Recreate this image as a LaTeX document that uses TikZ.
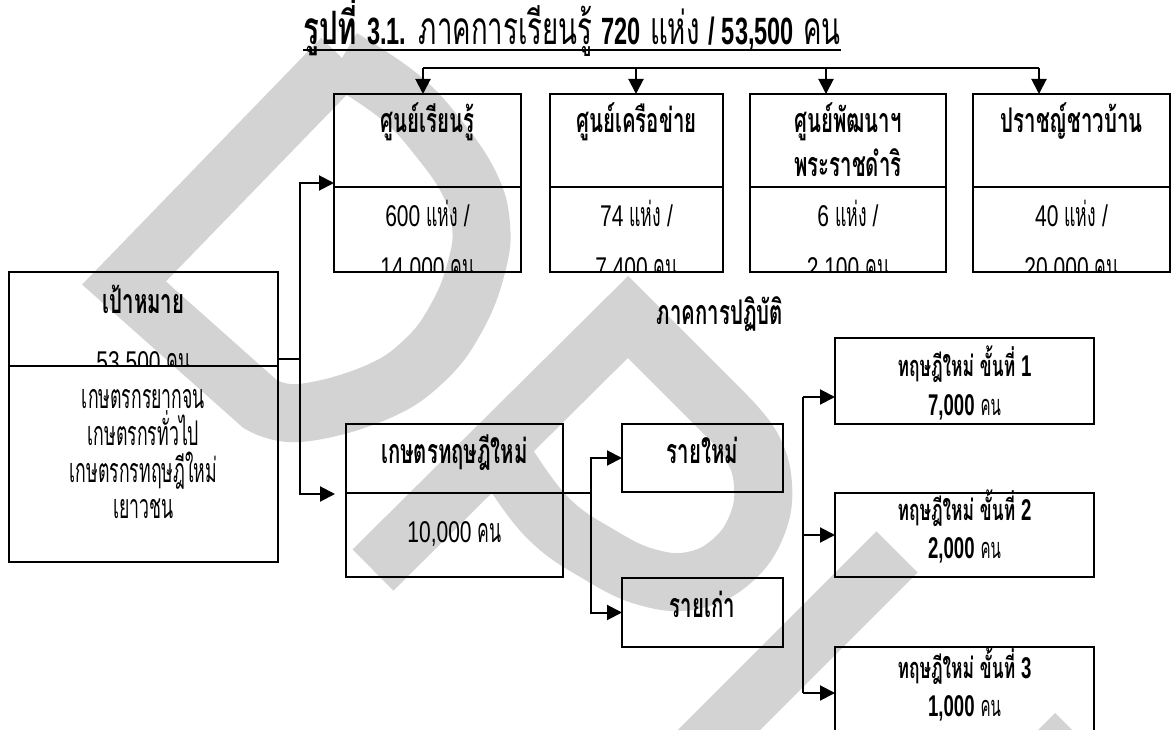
\documentclass[tikz,border=0pt]{standalone}
\usepackage{fontspec}
\setmainfont{Loma}[Script=Thai, UprightFeatures={FakeStretch=0.52}, BoldFeatures={FakeStretch=0.6}]
\newfontfamily\titlef{Loma}[Script=Thai, UprightFeatures={FakeStretch=0.6}, BoldFeatures={FakeStretch=0.64}]
\newfontfamily\numf{Liberation Sans}[UprightFeatures={FakeStretch=0.7}, BoldFeatures={FakeStretch=0.62}]
\usetikzlibrary{arrows.meta}
\definecolor{wmgray}{RGB}{211,211,211}
\newcommand\nmb[1]{{\numf\fontsize{30}{32}\selectfont #1}}
\newcommand\nmbb[1]{{\numf\bfseries\fontsize{30}{32}\selectfont #1}}
\newcommand\tnum[1]{{\numf\bfseries\fontsize{38}{40}\selectfont #1}}
\tikzset{
  wmk/.style={draw=wmgray, line width=58pt, line join=miter},
  box/.style={draw, line width=2.8pt, inner sep=0pt, outer sep=0pt, anchor=north west},
  txt/.style={inner sep=0pt, anchor=base, font=\fontsize{34}{38}\selectfont},
  hd/.style={txt, font=\fontsize{34}{38}\selectfont\bfseries},
  sd/.style={txt, font=\fontsize{29}{32}\selectfont\bfseries},
  conn/.style={line width=2pt},
  arr/.style={line width=2pt, -{Triangle[length=15pt,width=15pt]}},
}
\begin{document}
\begin{tikzpicture}[x=1pt,y=-1pt]
\useasboundingbox (0,0) rectangle (1171,730);
\clip (0,0) rectangle (1171,730);
\fill[white] (0,0) rectangle (1171,730);

% watermark
\begin{scope}
\clip (0,30) rectangle (1171,730);
\draw[wmk] (342,58) -- (124,283) -- (260,404) -- plot[smooth, tension=0.7] coordinates {(260,404) (300,413) (375,393) (425,360) (458,315) (477,265) (481,225) (470,185) (440,140) (400,97) (342,58)};
\draw[wmk] (373,570) -- (628,317) -- (725,414) -- plot[smooth, tension=0.7] coordinates {(725,414) (752,447) (763,485) (757,525) (733,560) (695,580) (650,578) (600,555) (545,515) (497,447)};
\draw[wmk] (897,552) -- (697,752);
\draw[wmk] (975,834) -- (1055,754) -- (1135,834);
\end{scope}

% title
\node[txt, font=\titlef\fontsize{46}{48}\selectfont] (title) at (572,45) {{\bfseries รูปที่ }\tnum{3.1.} ภาคการเรียนรู้ \tnum{720} แห่ง \tnum{/ 53,500} คน};
\draw[line width=2.4pt] ([yshift=-5pt]title.base west) -- ([yshift=-5pt]title.base east);

% top boxes
\node[box, minimum width=187pt, minimum height=93pt] (b1t) at (334,94) {};
\node[box, minimum width=187pt, minimum height=85pt] (b1b) at (334,187) {};
\node[box, minimum width=173pt, minimum height=93pt] (b2t) at (550,94) {};
\node[box, minimum width=173pt, minimum height=85pt] (b2b) at (550,187) {};
\node[box, minimum width=196pt, minimum height=93pt] (b3t) at (750,94) {};
\node[box, minimum width=196pt, minimum height=85pt] (b3b) at (750,187) {};
\node[box, minimum width=197pt, minimum height=93pt] (b4t) at (973,94) {};
\node[box, minimum width=197pt, minimum height=85pt] (b4b) at (973,187) {};

\node[hd] (b1h) at (427.5,133) {ศูนย์เรียนรู้};
\node[hd] (b2h) at (636.5,133) {ศูนย์เครือข่าย};
\node[hd] (b3h) at (848,133) {ศูนย์พัฒนาฯ};
\node[hd] (b3h2) at (848,177) {พระราชดำริ};
\node[hd] (b4h) at (1071.5,133) {ปราชญ์ชาวบ้าน};

\node[txt] (b1n) at (427.5,227) {\nmb{600} แห่ง \nmb{/}};
\node[txt] (b2n) at (636.5,227) {\nmb{74} แห่ง \nmb{/}};
\node[txt] (b3n) at (848,227) {\nmb{6} แห่ง \nmb{/}};
\node[txt] (b4n) at (1071.5,227) {\nmb{40} แห่ง \nmb{/}};
\begin{scope}
\clip (b1b.north west) rectangle (b1b.south east);
\node[txt] (b1p) at (427.5,279) {\nmb{14,000} คน};
\end{scope}
\begin{scope}
\clip (b2b.north west) rectangle (b2b.south east);
\node[txt] (b2p) at (636.5,279) {\nmb{7,400} คน};
\end{scope}
\begin{scope}
\clip (b3b.north west) rectangle (b3b.south east);
\node[txt] (b3p) at (848,279) {\nmb{2,100} คน};
\end{scope}
\begin{scope}
\clip (b4b.north west) rectangle (b4b.south east);
\node[txt] (b4p) at (1071.5,279) {\nmb{20,000} คน};
\end{scope}

% top connector
\coordinate (t1) at (423,68);
\coordinate (t2) at (636,68);
\coordinate (t3) at (826,68);
\coordinate (t4) at (1039,68);
\draw[conn] (t1) -- (t4);
\draw[arr] (t1) -- (t1 |- b1t.north);
\draw[arr] (t2) -- (t2 |- b2t.north);
\draw[arr] (t3) -- (t3 |- b3t.north);
\draw[arr] (t4) -- (t4 |- b4t.north);

% left box
\node[box, minimum width=269pt, minimum height=94pt] (Lt) at (9,272) {};
\node[box, minimum width=269pt, minimum height=196pt] (Lb) at (9,366) {};
\node[hd] (Lh) at (143.5,313) {เป้าหมาย};
\begin{scope}
\clip (Lt.north west) rectangle (Lt.south east);
\node[txt] (Ln) at (143.5,372) {\nmb{53,500} คน};
\end{scope}
\node[txt] (L1) at (143.5,408) {เกษตรกรยากจน};
\node[txt] (L2) at (143.5,445) {เกษตรกรทั่วไป};
\node[txt] (L3) at (143.5,482) {เกษตรกรทฤษฎีใหม่};
\node[txt] (L4) at (143.5,518) {เยาวชน};

% kaset box
\node[box, minimum width=217pt, minimum height=69pt] (Kt) at (346,424) {};
\node[box, minimum width=217pt, minimum height=84pt] (Kb) at (346,493) {};
\node[hd] (Kh) at (454.5,463) {เกษตรทฤษฎีใหม่};
\node[txt] (Kn) at (454.5,542) {\nmb{10,000} คน};

\node[box, minimum width=161pt, minimum height=68pt] (RM) at (622,424) {};
\node[box, minimum width=161pt, minimum height=69pt] (RK) at (622,578) {};
\node[hd] (RMt) at (702.5,463) {รายใหม่};
\node[hd] (RKt) at (702.5,617) {รายเก่า};

\node[hd] (prac) at (720,325) {ภาคการปฏิบัติ};

% stage boxes
\node[box, minimum width=259pt, minimum height=86pt] (S1) at (835,338) {};
\node[box, minimum width=259pt, minimum height=84pt] (S2) at (835,493) {};
\node[box, minimum width=259pt, minimum height=110pt] (S3) at (835,647) {};
\node[sd] (S1a) at (964.5,377) {ทฤษฎีใหม่ ขั้นที่ \nmbb{1}};
\node[sd] (S1b) at (964.5,415) {\nmbb{7,000} {\mdseries คน}};
\node[sd] (S2a) at (964.5,520) {ทฤษฎีใหม่ ขั้นที่ \nmbb{2}};
\node[sd] (S2b) at (964.5,558) {\nmbb{2,000} {\mdseries คน}};
\node[sd] (S3a) at (964.5,678) {ทฤษฎีใหม่ ขั้นที่ \nmbb{3}};
\node[sd] (S3b) at (964.5,716) {\nmbb{1,000} {\mdseries คน}};

% left connectors
\coordinate (j1) at (300,359);
\coordinate (a1) at (334,183);
\coordinate (a2) at (335,494);
\draw[conn] (j1 -| Lt.east) -- (j1);
\draw[arr] (j1) |- (a1);
\draw[arr] (j1) |- (a2);

% kaset connectors
\coordinate (j2) at (591,493);
\draw[conn] (Kt.south east) -- (j2);
\draw[arr] (j2) |- (RM.west);
\draw[arr] (j2) |- (RK.west);

% stage connectors
\coordinate (j3) at (803,397);
\coordinate (j4) at (803,693);
\draw[conn] (j3) -- (j4);
\draw[arr] (j3) -- (j3 -| S1.west);
\draw[arr] (j3 |- S2.west) -- (S2.west);
\draw[arr] (j4) -- (j4 -| S3.west);
\end{tikzpicture}
\end{document}
